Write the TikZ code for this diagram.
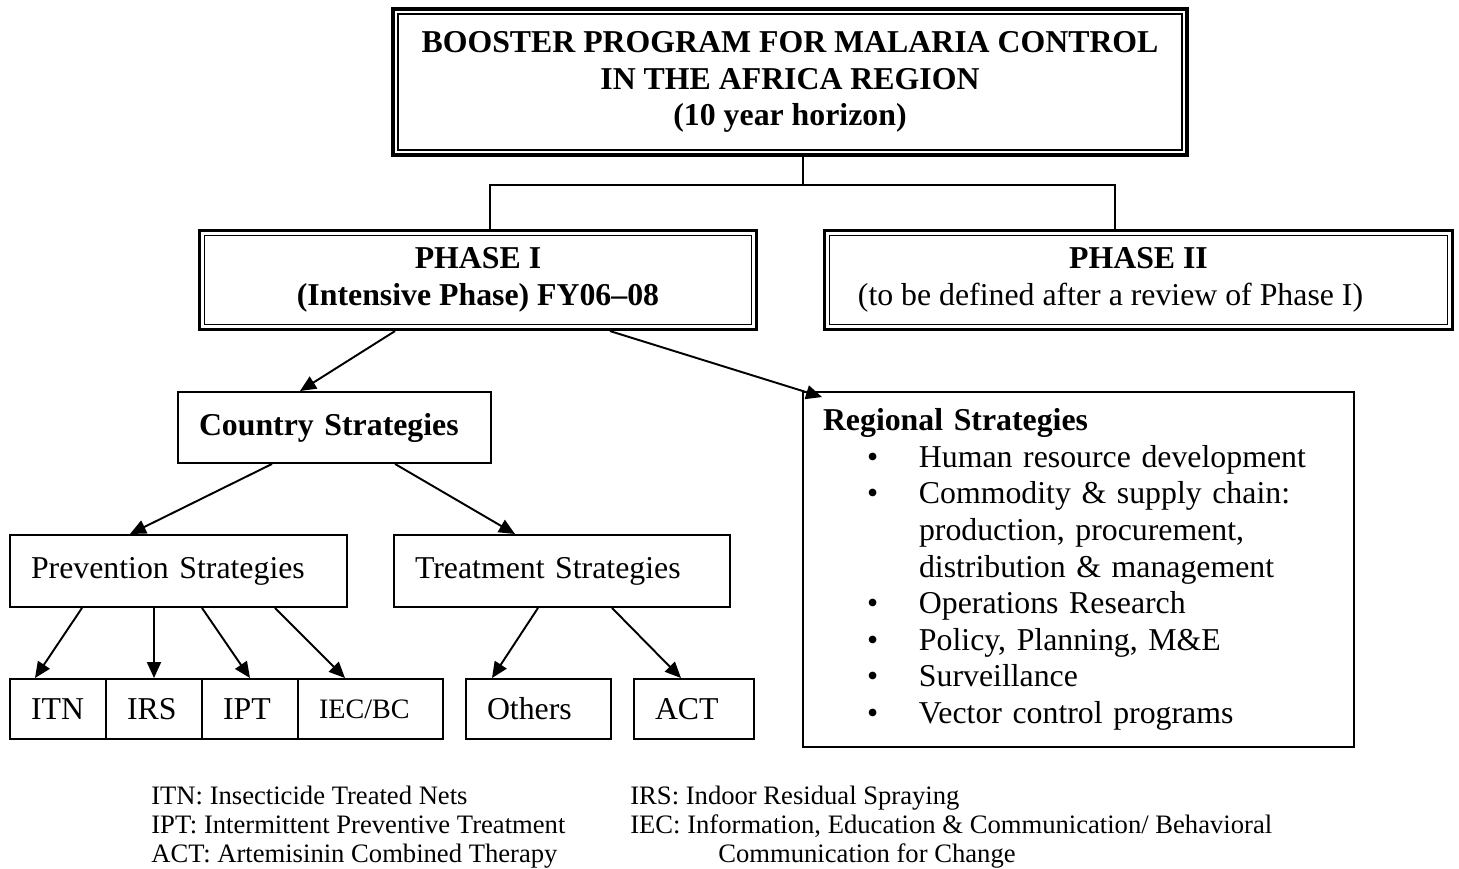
\documentclass[tikz,border=0pt]{standalone}
\usepackage{fontspec}
\setmainfont{Liberation Serif}
\usepackage{tikz}
\usetikzlibrary{arrows.meta}

\newcommand{\bulletline}[1]{\hspace*{0.88cm}\makebox[1.04cm][l]{\textbullet}#1}
\newcommand{\contline}[1]{\hspace*{1.92cm}#1}

\begin{document}
\begin{tikzpicture}[
        every node/.style={font=\fontsize{18.1pt}{20.8pt}\selectfont},
        dblbox/.style={draw, line width=1.8pt, align=center, inner sep=0pt,
            path picture={\draw [line width=0.9pt] ([shift={(0.1,-0.1)}]path picture bounding box.north west) rectangle ([shift={(-0.1,0.1)}]path picture bounding box.south east);}},
        txtbox/.style={draw, line width=1.1pt, align=left, inner xsep=0.42cm, inner ysep=0pt, text width=#1},
        legtext/.style={anchor=base west, inner sep=0pt, font=\fontsize{15.15pt}{17pt}\selectfont},
        flow/.style={-{Triangle[length=0.32cm, width=0.28cm]}, line width=1.1pt}
    ]
        \useasboundingbox (0.0, 0.0) rectangle (29.18, 17.38);

        % program and phases
        \node [dblbox, minimum width=15.88cm, minimum height=2.92cm] (title) at (15.8, 15.74) {\textbf{BOOSTER PROGRAM FOR MALARIA CONTROL}\\ \textbf{IN THE AFRICA REGION}\\ \textbf{(10 year horizon)}};
        \node [dblbox, minimum width=11.14cm, minimum height=1.98cm] (phaseA) at (9.56, 11.78) {\textbf{PHASE I}\\ \textbf{(Intensive Phase) FY06--08}};
        \node [dblbox, minimum width=12.56cm, minimum height=1.98cm] (phaseB) at (22.77, 11.78) {\textbf{PHASE II}\\ (to be defined after a review of Phase I)\hspace*{1.12cm}};

        \draw [line width=1.1pt] ([xshift=0.26cm]title.south) -- ++(0.0, -0.57) coordinate (split);
        \draw [line width=1.1pt] ([xshift=0.24cm]phaseA.north) |- (split) -| ([xshift=-0.47cm]phaseB.north);

        % strategies
        \node [txtbox=5.42cm, minimum height=1.42cm] (country) at (6.69, 8.83) {\textbf{Country Strategies}};
        \node [txtbox=5.9cm, minimum height=1.44cm] (prevent) at (3.57, 5.96) {Prevention Strategies};
        \node [txtbox=5.88cm, minimum height=1.44cm] (treat) at (11.24, 5.96) {Treatment Strategies};
        \node [txtbox=10.22cm, inner xsep=0.4cm, minimum height=7.1cm] (regional) at (21.57, 5.99) {\textbf{Regional Strategies}\\
            \bulletline{Human resource development}\\
            \bulletline{Commodity \& supply chain:}\\
            \contline{production, procurement,}\\
            \contline{distribution \& management}\\
            \bulletline{Operations Research}\\
            \bulletline{Policy, Planning, M\&E}\\
            \bulletline{Surveillance}\\
            \bulletline{Vector control programs}};

        % interventions
        \node [txtbox=1.08cm, minimum height=1.2cm] (itn) at (1.16, 3.2) {ITN};
        \node [txtbox=1.08cm, minimum height=1.2cm] (irs) at (3.08, 3.2) {IRS};
        \node [txtbox=1.08cm, minimum height=1.2cm] (ipt) at (5.0, 3.2) {IPT};
        \node [txtbox=2.06cm, minimum height=1.2cm, font=\fontsize{16pt}{18pt}\selectfont] (iec) at (7.41, 3.2) {IEC/BC};
        \node [txtbox=2.06cm, minimum height=1.2cm] (others) at (10.77, 3.2) {Others};
        \node [txtbox=1.56cm, minimum height=1.2cm] (act) at (13.88, 3.2) {ACT};

        \draw [flow] ([xshift=-1.66cm]phaseA.south) -- ([xshift=-0.69cm]country.north);
        \draw [flow] ([xshift=2.64cm]phaseA.south) -- ([shift={(0.4cm,-0.12cm)}]regional.north west);
        \draw [flow] ([xshift=-1.25cm]country.south) -- ([xshift=-0.97cm]prevent.north);
        \draw [flow] ([xshift=1.21cm]country.south) -- ([xshift=-0.94cm]treat.north);
        \draw [flow] ([xshift=-1.93cm]prevent.south) -- ([xshift=-0.46cm]itn.north);
        \draw [flow] ([xshift=-0.49cm]prevent.south) -- (irs.north);
        \draw [flow] ([xshift=0.47cm]prevent.south) -- (ipt.north);
        \draw [flow] ([xshift=1.93cm]prevent.south) -- ([xshift=-0.51cm]iec.north);
        \draw [flow] ([xshift=-0.48cm]treat.south) -- ([xshift=-0.93cm]others.north);
        \draw [flow] ([xshift=1.0cm]treat.south) -- ([xshift=-0.26cm]act.north);

        % legend
        \node [legtext] (legitn) at (3.02, 1.28) {ITN: Insecticide Treated Nets};
        \node [legtext] (legipt) at (3.02, 0.71) {IPT: Intermittent Preventive Treatment};
        \node [legtext] (legact) at (3.02, 0.13) {ACT: Artemisinin Combined Therapy};
        \node [legtext] (legirs) at (12.6, 1.28) {IRS: Indoor Residual Spraying};
        \node [legtext] (legiec) at (12.6, 0.71) {IEC: Information, Education \& Communication/ Behavioral};
        \node [legtext] (legchg) at (14.36, 0.13) {Communication for Change};
    \end{tikzpicture}
\end{document}
